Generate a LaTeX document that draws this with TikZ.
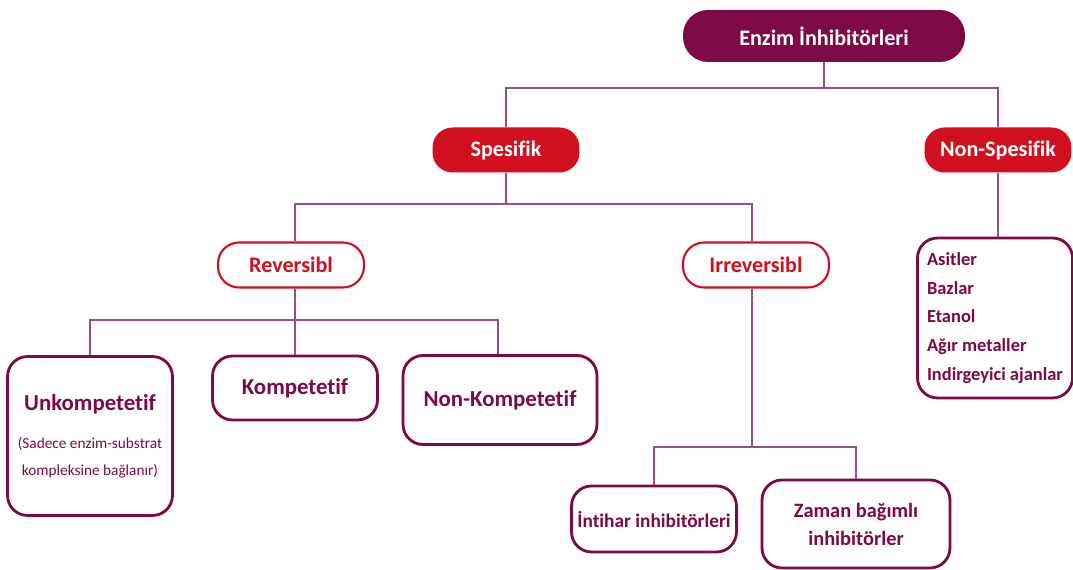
\documentclass[tikz,border=0pt]{standalone}
\usepackage{fontspec}
\setmainfont{Carlito}[Ligatures=NoCommon]
\definecolor{bordo}{HTML}{7D0A45}
\definecolor{kirmizi}{HTML}{D20F1F}
\definecolor{cizgi}{HTML}{9A4D7E}
\newcommand{\kucuk}{\fontsize{8.7}{11.5}\selectfont\mdseries}
\tikzset{
  baslik/.style={rectangle, rounded corners=0.5cm, fill=bordo, text=white, font=\bfseries\fontsize{12.6}{15}\selectfont},
  grup/.style={rectangle, rounded corners=0.4cm, fill=kirmizi, text=white, font=\bfseries\fontsize{12.6}{15}\selectfont},
  alt/.style={rectangle, rounded corners=0.42cm, draw=kirmizi, line width=1.2pt, fill=white, text=kirmizi, font=\bfseries\fontsize{12.6}{15}\selectfont},
  kutu/.style={rectangle, rounded corners=0.4cm, draw=bordo, line width=1.6pt, fill=white, text=bordo, align=center, font=\bfseries\fontsize{13}{15}\selectfont},
  bag/.style={draw=cizgi, line width=1.1pt}
}
\begin{document}
\begin{tikzpicture}[x=0.02cm,y=-0.02cm]
\useasboundingbox (0,0) rectangle (1073,570);

\node[baslik, minimum width=5.64cm, minimum height=1.04cm] (enzim) at (824,36) {Enzim İnhibitörleri};

\node[grup, minimum width=2.94cm, minimum height=0.9cm] (spes) at (506,150) {Spesifik};
\node[grup, minimum width=2.94cm, minimum height=0.9cm] (nonspes) at (998,150) {Non-Spesifik};

\node[alt, minimum width=2.92cm, minimum height=0.9cm] (rev) at (291,265) {Reversibl};
\node[alt, minimum width=2.92cm, minimum height=0.9cm] (irrev) at (756,265) {Irreversibl};

\node[kutu, minimum width=3.3cm, minimum height=3.18cm] (unk) at (90,436) {Unkompetetif\\[7pt]\kucuk (Sadece enzim-substrat\\\kucuk kompleksine bağlanır)};
\node[kutu, minimum width=3.3cm, minimum height=1.28cm] (komp) at (295,388) {Kompetetif};
\node[kutu, minimum width=3.88cm, minimum height=1.78cm] (nonkomp) at (500,400) {Non-Kompetetif};

\node[kutu, minimum width=3.1cm, minimum height=3.2cm, align=left, font=\bfseries\fontsize{10.5}{16.4}\selectfont] (liste) at (995,318) {Asitler\\Bazlar\\Etanol\\Ağır metaller\\Indirgeyici ajanlar};

\node[kutu, minimum width=3.3cm, minimum height=1.32cm, inner sep=2pt, font=\bfseries\fontsize{11}{15}\selectfont] (intihar) at (654,519) {İntihar inhibitörleri};
\node[kutu, minimum width=3.76cm, minimum height=1.76cm, font=\bfseries\fontsize{11.6}{16}\selectfont] (zaman) at (856,524) {Zaman bağımlı\\inhibitörler};

\draw[bag] (enzim.south) -- ++(0,26) -| (spes.north);
\draw[bag] (enzim.south) -- ++(0,26) -| (nonspes.north);
\draw[bag] (spes.south) -- ++(0,31) -| ([xshift=0.08cm]rev.north);
\draw[bag] (spes.south) -- ++(0,31) -| ([xshift=-0.08cm]irrev.north);
\draw[bag] (nonspes.south) -- (liste.north -| nonspes.south);
\draw[bag] ([xshift=0.08cm]rev.south) -- ++(0,31) -| (unk.north);
\draw[bag] ([xshift=0.08cm]rev.south) -- ++(0,31) -| (komp.north);
\draw[bag] ([xshift=0.08cm]rev.south) -- ++(0,31) -| ([xshift=-0.04cm]nonkomp.north);
\draw[bag] ([xshift=-0.08cm]irrev.south) -- ++(0,158) -| (intihar.north);
\draw[bag] ([xshift=-0.08cm]irrev.south) -- ++(0,158) -| (zaman.north);
\end{tikzpicture}
\end{document}
